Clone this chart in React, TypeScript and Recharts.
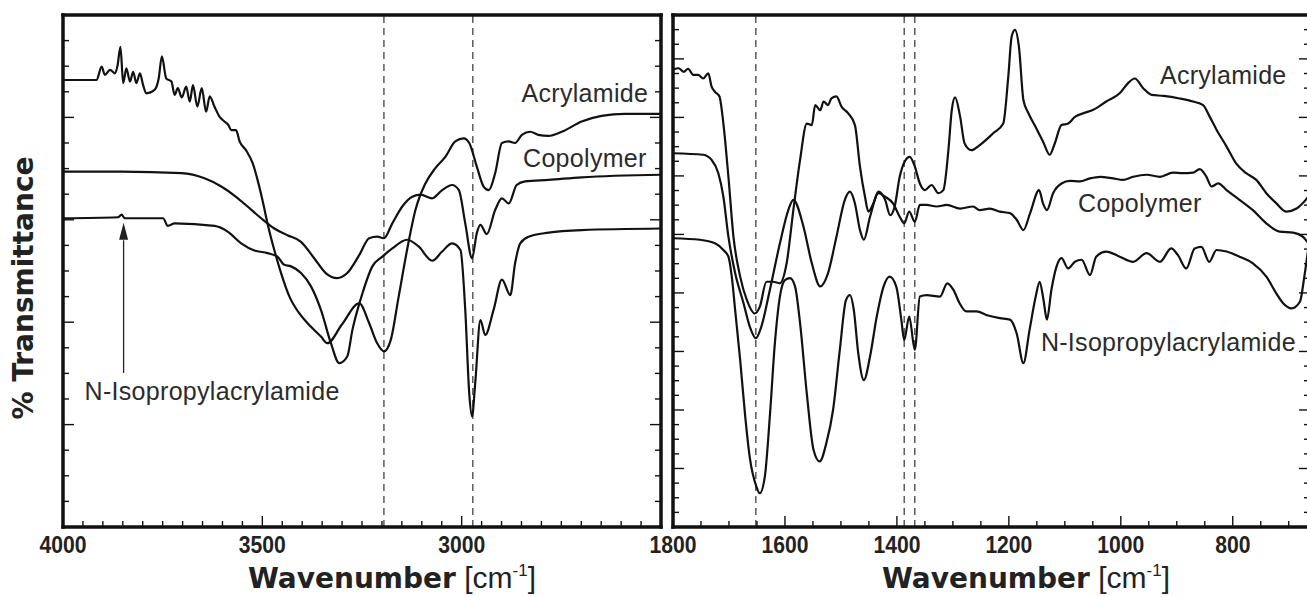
import React from 'react';
import { LineChart, Line, XAxis, YAxis, ReferenceLine, ReferenceDot } from 'recharts';

type Pt = [number, number];

// wavenumber [cm-1], transmittance (offset, arbitrary units)
const acrylamideHigh: Pt[] = [
  [4000, 87.3], [3916, 87.3], [3903, 89.9], [3895, 88.3], [3882, 89.3], [3870, 88.6], [3863, 90.2], [3856, 93.8],
  [3849, 86.7], [3841, 89.6], [3832, 87.0], [3824, 88.9], [3816, 86.7], [3807, 88.6], [3799, 86.3], [3791, 84.7],
  [3770, 85.4], [3760, 87.6], [3752, 91.9], [3741, 87.6], [3728, 87.0], [3720, 84.4], [3712, 85.7], [3702, 83.9],
  [3691, 86.0], [3682, 83.1], [3674, 86.3], [3663, 82.1], [3652, 85.7], [3641, 81.1], [3632, 84.1], [3620, 82.1],
  [3607, 80.1], [3595, 79.2], [3585, 78.5], [3578, 77.5], [3566, 77.5], [3557, 75.3], [3541, 73.6], [3524, 71.0],
  [3512, 67.8], [3499, 63.6], [3487, 59.3], [3470, 54.1], [3453, 49.6], [3432, 45.0], [3407, 41.7], [3378, 39.1],
  [3353, 37.2], [3337, 35.9], [3300, 39.6], [3257, 43.7], [3232, 39.8], [3212, 35.9], [3195, 34.3], [3178, 36.5],
  [3158, 45.0], [3137, 54.1], [3116, 61.9], [3091, 67.1], [3066, 70.1], [3041, 72.3], [3016, 75.3], [2995, 75.9],
  [2981, 75.0], [2962, 70.4], [2945, 66.5], [2932, 65.8], [2916, 69.1], [2899, 75.0], [2882, 75.3], [2866, 75.0],
  [2849, 76.6], [2828, 77.2], [2808, 76.6], [2782, 76.4], [2749, 77.2], [2699, 79.2], [2649, 80.3], [2591, 80.7],
  [2500, 80.7],
];

const copolymerHigh: Pt[] = [
  [4000, 69.4], [3853, 69.4], [3703, 69.1], [3645, 68.1], [3603, 66.5], [3566, 64.5], [3537, 62.6], [3503, 60.3],
  [3470, 58.3], [3437, 57.0], [3403, 55.7], [3370, 52.5], [3341, 49.6], [3312, 48.6], [3287, 49.6], [3257, 53.1],
  [3232, 56.4], [3212, 56.7], [3195, 56.4], [3174, 59.3], [3149, 62.6], [3124, 64.5], [3103, 64.9], [3074, 64.2],
  [3049, 65.8], [3024, 66.8], [3007, 65.8], [2991, 59.3], [2974, 52.5], [2962, 57.4], [2953, 59.0], [2937, 57.2],
  [2916, 61.9], [2899, 64.2], [2882, 63.2], [2862, 66.8], [2841, 67.5], [2782, 67.8], [2699, 68.3], [2500, 68.8],
];

const nipamHigh: Pt[] = [
  [4000, 60.3], [3862, 60.5], [3853, 61.0], [3845, 60.3], [3749, 60.3], [3737, 58.8], [3720, 59.3], [3620, 58.8],
  [3587, 57.7], [3553, 55.4], [3520, 54.0], [3487, 53.5], [3462, 52.8], [3445, 51.2], [3428, 50.9], [3403, 49.6],
  [3378, 47.0], [3353, 42.4], [3328, 35.9], [3307, 32.0], [3287, 33.3], [3274, 38.5], [3249, 45.6], [3224, 50.9],
  [3199, 52.8], [3174, 54.4], [3137, 56.1], [3108, 54.8], [3074, 52.0], [3049, 53.8], [3024, 55.4], [3003, 54.1],
  [2991, 42.4], [2981, 26.1], [2974, 21.6], [2966, 28.1], [2953, 40.4], [2941, 37.5], [2920, 42.4], [2899, 48.3],
  [2878, 45.3], [2866, 51.5], [2853, 55.4], [2832, 56.7], [2782, 57.5], [2699, 58.0], [2500, 58.3],
];

const acrylamideLow: Pt[] = [
  [1800, 89.3], [1790, 89.6], [1781, 88.9], [1773, 89.5], [1764, 88.3], [1755, 88.3], [1746, 87.6], [1737, 88.6],
  [1731, 86.0], [1725, 85.0], [1717, 84.1], [1710, 78.8], [1701, 68.4], [1692, 56.7], [1680, 48.9], [1668, 44.3],
  [1654, 41.7], [1645, 43.0], [1633, 47.9], [1621, 47.9], [1609, 47.6], [1597, 51.5], [1585, 61.9], [1573, 71.7],
  [1561, 78.8], [1552, 78.5], [1546, 82.4], [1537, 81.4], [1531, 83.1], [1523, 82.4], [1517, 83.7], [1508, 84.1],
  [1499, 82.1], [1487, 80.8], [1475, 78.5], [1466, 70.4], [1457, 64.5], [1451, 61.6], [1442, 63.2], [1433, 65.5],
  [1421, 63.9], [1412, 60.9], [1404, 62.6], [1395, 68.4], [1386, 71.4], [1377, 72.3], [1368, 70.4], [1359, 67.1],
  [1350, 65.8], [1338, 66.8], [1326, 65.2], [1317, 65.8], [1308, 73.6], [1302, 81.4], [1296, 83.9], [1287, 80.1],
  [1279, 74.9], [1267, 73.6], [1252, 74.6], [1228, 76.9], [1210, 78.8], [1201, 88.0], [1195, 95.8], [1189, 97.1],
  [1182, 93.8], [1174, 83.4], [1165, 80.8], [1154, 78.5], [1139, 75.3], [1127, 72.7], [1118, 74.9], [1106, 78.5],
  [1094, 78.8], [1082, 80.1], [1067, 80.8], [1049, 81.5], [1026, 83.1], [1002, 84.7], [987, 86.7], [975, 87.6],
  [960, 85.7], [945, 84.4], [924, 84.2], [895, 83.7], [871, 83.1], [853, 82.4], [841, 80.1], [829, 77.6],
  [811, 74.3], [794, 71.0], [776, 69.1], [758, 67.8], [740, 65.2], [722, 63.2], [704, 61.6], [686, 62.2],
  [672, 63.6], [662, 65.0],
];

const copolymerLow: Pt[] = [
  [1800, 73.0], [1746, 72.7], [1731, 71.7], [1719, 69.1], [1710, 64.5], [1701, 56.7], [1689, 49.6], [1674, 43.7],
  [1663, 39.2], [1652, 36.9], [1642, 39.2], [1627, 46.3], [1609, 55.4], [1594, 61.9], [1585, 63.9], [1567, 58.7],
  [1552, 51.5], [1537, 47.0], [1523, 49.6], [1508, 56.7], [1493, 63.9], [1484, 65.5], [1475, 63.2], [1466, 58.0],
  [1459, 56.1], [1448, 60.6], [1433, 65.2], [1421, 64.5], [1407, 63.2], [1395, 60.6], [1387, 59.3], [1378, 61.6],
  [1368, 59.6], [1359, 62.9], [1347, 62.9], [1329, 62.6], [1311, 62.9], [1287, 62.2], [1264, 62.6], [1252, 61.9],
  [1234, 62.2], [1216, 61.6], [1198, 61.3], [1186, 60.0], [1174, 58.0], [1162, 61.3], [1146, 65.8], [1139, 63.2],
  [1132, 61.9], [1121, 65.2], [1106, 67.1], [1091, 67.6], [1073, 67.5], [1055, 68.1], [1037, 68.4], [1014, 68.1],
  [996, 67.8], [978, 68.4], [954, 68.8], [930, 68.4], [907, 69.2], [889, 69.1], [871, 69.2], [859, 69.9],
  [847, 68.4], [838, 66.5], [826, 67.1], [811, 65.8], [788, 63.9], [764, 61.9], [740, 59.3], [716, 57.7],
  [692, 57.5], [675, 56.7], [662, 55.0],
];

const nipamLow: Pt[] = [
  [1800, 56.4], [1752, 56.1], [1725, 55.4], [1710, 54.1], [1701, 52.8], [1695, 48.9], [1689, 42.4], [1680, 32.6],
  [1671, 21.6], [1663, 13.7], [1651, 7.9], [1645, 6.6], [1636, 9.8], [1627, 21.6], [1618, 35.9], [1609, 45.0],
  [1600, 48.2], [1591, 48.6], [1582, 47.0], [1573, 39.8], [1561, 26.1], [1549, 15.1], [1538, 12.8], [1526, 16.4],
  [1514, 22.9], [1502, 34.6], [1491, 44.3], [1484, 45.3], [1477, 42.4], [1469, 33.9], [1459, 28.7], [1448, 33.3],
  [1436, 41.1], [1424, 46.9], [1413, 48.9], [1401, 46.9], [1392, 40.4], [1387, 36.5], [1378, 41.1], [1368, 34.6],
  [1359, 45.0], [1347, 45.3], [1323, 45.0], [1310, 47.6], [1299, 46.3], [1288, 43.7], [1276, 42.1], [1258, 42.1],
  [1237, 41.3], [1216, 40.8], [1198, 40.5], [1186, 37.8], [1174, 32.0], [1163, 38.5], [1152, 45.0], [1145, 47.9],
  [1138, 44.3], [1132, 40.5], [1124, 46.3], [1115, 50.8], [1106, 52.5], [1094, 50.5], [1082, 51.8], [1070, 52.2],
  [1055, 49.2], [1044, 52.8], [1026, 53.8], [1002, 52.8], [978, 51.8], [954, 53.5], [930, 51.8], [910, 54.4],
  [898, 53.1], [883, 50.5], [868, 54.4], [856, 54.7], [842, 51.8], [829, 54.1], [811, 53.8], [788, 52.8],
  [764, 51.5], [740, 48.9], [722, 45.6], [710, 43.7], [695, 42.7], [680, 44.0], [672, 49.0], [662, 57.0],
];

const leftXLabels = [4000, 3500, 3000];
const rightXLabels = [1800, 1600, 1400, 1200, 1000, 800];
const leftDashed = [3195, 2972];
const rightDashed = [1652, 1387, 1368];

const leftNotes = [
  { text: 'Acrylamide', w: 2691, t: 84.7 },
  { text: 'Copolymer', w: 2691, t: 72.0 },
  { text: 'N-Isopropylacrylamide', w: 3626, t: 26.5 },
];
const rightNotes = [
  { text: 'Acrylamide', w: 817, t: 88.2 },
  { text: 'Copolymer', w: 966, t: 63.2 },
  { text: 'N-Isopropylacrylamide', w: 915, t: 36.2 },
];

const toPts = (a: Pt[]) => a.map(([w, t]) => ({ w, t }));

const steps = (from: number, to: number, step: number) => {
  const out: number[] = [];
  for (let v = from; v <= to + 1e-9; v += step) out.push(+v.toFixed(4));
  return out;
};

const isIn = (v: number, list: number[]) => list.some((m) => Math.abs(m - v) < 1e-6);

const INK = '#111';
const FRAME = { stroke: INK, strokeWidth: 3.5, strokeLinecap: 'square' as const };
const SANS = "'Liberation Sans', Arial, sans-serif";

type Side = 'bottom' | 'top' | 'left' | 'right';

function tickMark(side: Side, majors: number[], labels: number[] = []) {
  return (p: any) => {
    const v = p.payload.value;
    const len = isIn(v, majors) ? 11 : 6;
    let x2 = p.x;
    let y2 = p.y;
    if (side === 'bottom') y2 = p.y - len;
    if (side === 'top') y2 = p.y + len;
    if (side === 'left') x2 = p.x + len;
    if (side === 'right') x2 = p.x - len;
    return (
      <g>
        <line x1={p.x} y1={p.y} x2={x2} y2={y2} stroke={INK} strokeWidth={1.4} />
        {side === 'bottom' && isIn(v, labels) && (
          <text
            transform={`translate(${p.x},${p.y + 26}) scale(0.88,1)`}
            textAnchor="middle"
            fontFamily={SANS}
            fontWeight={700}
            fontSize={24}
            fill="#222"
          >
            {v}
          </text>
        )}
      </g>
    );
  };
}

interface PanelProps {
  left: number;
  width: number;
  marginLeft: number;
  marginRight: number;
  domain: [number, number];
  xTicks: number[];
  xMajors: number[];
  xLabels: number[];
  yTicks: number[];
  yMajors: number[];
  series: Pt[][];
  dashed: number[];
  notes: { text: string; w: number; t: number }[];
  children?: React.ReactNode;
}

function Panel(props: PanelProps) {
  const { domain } = props;
  return (
    <div style={{ position: 'absolute', left: props.left, top: 0 }}>
      <LineChart
        width={props.width}
        height={597}
        margin={{ top: 15, right: props.marginRight, bottom: 40, left: props.marginLeft }}
      >
        <XAxis
          xAxisId="x"
          dataKey="w"
          type="number"
          domain={domain}
          reversed
          allowDataOverflow
          ticks={props.xTicks}
          interval={0}
          height={30}
          tickSize={0}
          tickMargin={0}
          tickLine={false}
          axisLine={FRAME}
          tick={tickMark('bottom', props.xMajors, props.xLabels)}
        />
        <XAxis
          xAxisId="xt"
          orientation="top"
          mirror
          type="number"
          domain={domain}
          reversed
          allowDataOverflow
          ticks={props.xTicks}
          interval={0}
          tickSize={0}
          tickMargin={0}
          tickLine={false}
          axisLine={FRAME}
          tick={tickMark('top', props.xMajors)}
        />
        <YAxis
          yAxisId="y"
          mirror
          type="number"
          domain={[0, 100]}
          allowDataOverflow
          ticks={props.yTicks}
          interval={0}
          tickSize={0}
          tickMargin={0}
          tickLine={false}
          axisLine={FRAME}
          tick={tickMark('left', props.yMajors)}
        />
        <YAxis
          yAxisId="yr"
          orientation="right"
          mirror
          type="number"
          domain={[0, 100]}
          allowDataOverflow
          ticks={props.yTicks}
          interval={0}
          tickSize={0}
          tickMargin={0}
          tickLine={false}
          axisLine={FRAME}
          tick={tickMark('right', props.yMajors)}
        />
        {props.dashed.map((d) => (
          <ReferenceLine
            key={d}
            xAxisId="x"
            yAxisId="y"
            x={d}
            stroke="#333"
            strokeWidth={1.2}
            strokeDasharray="7 5"
          />
        ))}
        {props.series.map((s, i) => (
          <Line
            key={i}
            xAxisId="x"
            yAxisId="y"
            data={toPts(s)}
            dataKey="t"
            type="monotone"
            stroke={INK}
            strokeWidth={2.2}
            dot={false}
            activeDot={false}
            isAnimationActive={false}
          />
        ))}
        {props.notes.map((n) => (
          <ReferenceDot
            key={n.text}
            xAxisId="x"
            yAxisId="y"
            x={n.w}
            y={n.t}
            r={0}
            ifOverflow="visible"
            shape={(p: any) => (
              <text
                x={p.cx}
                y={p.cy}
                dy="0.36em"
                textAnchor="middle"
                fontFamily={SANS}
                fontSize={25}
                letterSpacing={0.3}
                fill="#2b2b2b"
              >
                {n.text}
              </text>
            )}
          />
        ))}
        {props.children}
      </LineChart>
    </div>
  );
}

const titleStyle: React.CSSProperties = {
  position: 'absolute',
  top: 564,
  transform: 'translateX(-50%)',
  whiteSpace: 'nowrap',
  fontSize: 28,
  lineHeight: '28px',
  color: '#222',
};

function AxisTitle({ center }: { center: number }) {
  return (
    <div style={{ ...titleStyle, left: center }}>
      <span style={{ fontFamily: "'DejaVu Sans', sans-serif", fontWeight: 700 }}>Wavenumber</span>
      <span style={{ fontFamily: SANS, fontSize: 30 }}>
        {' [cm'}
        <span style={{ fontSize: 17, position: 'relative', top: -12 }}>-1</span>
        {']'}
      </span>
    </div>
  );
}

export default function App() {
  const rightYTicks = steps(1, 34, 1).map((k) => (k * 100) / 35);
  const rightYMajors = steps(4, 32, 4).map((k) => (k * 100) / 35);
  return (
    <div
      style={{
        position: 'absolute',
        left: 0,
        top: 0,
        width: 1307,
        height: 597,
        overflow: 'hidden',
        background: '#fff',
      }}
    >
      <Panel
        left={0}
        width={700}
        marginLeft={63}
        marginRight={39}
        domain={[2500, 4000]}
        xTicks={steps(2550, 4000, 50)}
        xMajors={[3000, 3500]}
        xLabels={leftXLabels}
        yTicks={steps(5, 95, 5)}
        yMajors={[20, 40, 60, 80]}
        series={[acrylamideHigh, copolymerHigh, nipamHigh]}
        dashed={leftDashed}
        notes={leftNotes}
      >
        <ReferenceLine
          xAxisId="x"
          yAxisId="y"
          segment={[{ x: 3848, y: 30.1 }, { x: 3848, y: 56 }]}
          stroke="#222"
          strokeWidth={1.3}
        />
        <ReferenceDot
          xAxisId="x"
          yAxisId="y"
          x={3848}
          y={59.4}
          r={0}
          ifOverflow="visible"
          shape={(p: any) => (
            <path
              d={`M${p.cx},${p.cy} L${p.cx - 4.5},${p.cy + 17} L${p.cx + 4.5},${p.cy + 17} Z`}
              fill="#222"
            />
          )}
        />
      </Panel>
      <Panel
        left={630}
        width={690}
        marginLeft={43}
        marginRight={10}
        domain={[662, 1800]}
        xTicks={steps(700, 1800, 50)}
        xMajors={[800, 1000, 1200, 1400, 1600]}
        xLabels={rightXLabels}
        yTicks={rightYTicks}
        yMajors={rightYMajors}
        series={[acrylamideLow, copolymerLow, nipamLow]}
        dashed={rightDashed}
        notes={rightNotes}
      />
      <div
        style={{
          position: 'absolute',
          left: 23,
          top: 288,
          transform: 'translate(-50%, -50%) rotate(-90deg)',
          whiteSpace: 'nowrap',
          fontFamily: "'DejaVu Sans', sans-serif",
          fontWeight: 700,
          fontSize: 28,
          color: '#222',
        }}
      >
        % Transmittance
      </div>
      <AxisTitle center={392} />
      <AxisTitle center={1026} />
    </div>
  );
}
